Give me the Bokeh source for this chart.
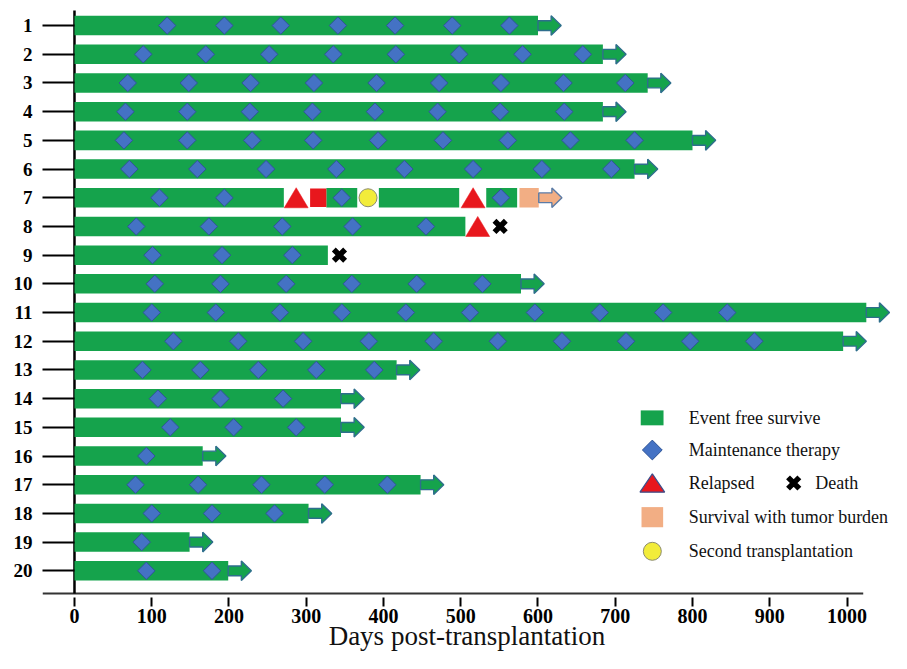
import numpy as np
from bokeh.plotting import figure
from bokeh.models import Range1d, FixedTicker, ColumnDataSource
from bokeh.core.properties import value
from bokeh.embed import file_html
from bokeh.resources import INLINE

# ---------------- data (days post-transplantation) ----------------
patients = list(range(1, 21))
x_ticks = [0, 100, 200, 300, 400, 500, 600, 700, 800, 900, 1000]

# event-free-survival bar segments
efs_row = [1, 2, 3, 4, 5, 6, 7, 7, 7, 7, 8, 9, 10, 11, 12, 13, 14, 15, 16, 17, 18, 19, 20]
efs_start = [0, 0, 0, 0, 0, 0, 0, 326, 394, 533, 0, 0, 0, 0, 0, 0, 0, 0, 0, 0, 0, 0, 0]
efs_end = [600, 684, 742, 684, 800, 725, 271, 366, 498, 573, 506, 328, 578, 1025, 995,
           417, 345, 345, 166, 448, 303, 149, 199]

# still alive at last follow-up (arrow)
alive_row = [1, 2, 3, 4, 5, 6, 7, 10, 11, 12, 13, 14, 15, 16, 17, 18, 19, 20]
alive_day = [600, 684, 742, 684, 800, 725, 601, 578, 1025, 995, 417, 345, 345, 166, 448, 303, 149, 199]
alive_state = ["efs", "efs", "efs", "efs", "efs", "efs", "tumor", "efs", "efs", "efs",
               "efs", "efs", "efs", "efs", "efs", "efs", "efs", "efs"]

tumor_row = [7]
tumor_start = [576]
tumor_end = [601]

relapse_row = [7, 7, 8]
relapse_day = [287, 516, 522]

salvage_row = [7]
salvage_start = [305]
salvage_end = [326]

death_row = [8, 9]
death_day = [551, 343]

sct_row = [7]
sct_day = [380]

maint_days = {
    1: [120, 194, 267, 341, 415, 489, 563],
    2: [89, 170, 252, 335, 416, 498, 580, 658],
    3: [69, 148, 228, 310, 391, 472, 552, 633, 713],
    4: [66, 146, 227, 308, 389, 470, 551, 634],
    5: [64, 146, 230, 309, 393, 477, 561, 642, 725],
    6: [71, 159, 248, 339, 427, 516, 605, 695],
    7: [110, 194, 346, 552],
    8: [80, 174, 269, 360, 455],
    9: [101, 191, 282],
    10: [104, 189, 274, 359, 443, 528],
    11: [100, 183, 266, 346, 429, 512, 596, 680, 762, 845],
    12: [128, 212, 296, 381, 465, 548, 631, 714, 797, 880],
    13: [88, 163, 238, 313, 388],
    14: [108, 189, 270],
    15: [124, 206, 287],
    16: [93],
    17: [79, 160, 242, 324, 405],
    18: [100, 178, 259],
    19: [87],
    20: [93, 178],
}

legend_labels = ["Event free survive", "Maintenance therapy", "Relapsed",
                 "Survival with tumor burden", "Second transplantation"]

# ---------------- styles ----------------
GREEN = "#15A34C"
BLUE = "#4472C4"
BLUE_EDGE = "#2F5597"
RED = "#E8171D"
ORANGE = "#F2AE84"
YELLOW = "#F2EC3A"
ARROW_EDGE = "#2E6E8C"
SERIF = "Liberation Serif"
BAR_H = 0.68
Y_AXIS_BOTTOM = 20.79

p = figure(width=891, height=653,
           x_range=Range1d(-41.4, 1057.6), y_range=Range1d(20.93, 0.1259),
           output_backend="svg", toolbar_location=None,
           min_border_left=42, min_border_right=0, min_border_top=0, min_border_bottom=0,
           background_fill_color="white", border_fill_color="white")
p.outline_line_color = None
p.xgrid.grid_line_color = None
p.ygrid.grid_line_color = None

# x axis
p.xaxis.ticker = FixedTicker(ticks=x_ticks)
p.xaxis.axis_line_color = None
p.xaxis.major_tick_in = 0
p.xaxis.major_tick_out = 9
p.xaxis.major_tick_line_width = 2
p.xaxis.major_tick_line_color = "black"
p.xaxis.minor_tick_line_color = None
p.xaxis.major_label_text_font = SERIF
p.xaxis.major_label_text_font_style = "bold"
p.xaxis.major_label_text_font_size = "20px"
p.xaxis.major_label_text_color = "black"
p.xaxis.major_label_standoff = 2
p.xaxis.axis_label = "Days post-transplantation"
p.xaxis.axis_label_text_font = SERIF
p.xaxis.axis_label_text_font_style = "normal"
p.xaxis.axis_label_text_font_size = "27px"
p.xaxis.axis_label_text_color = "#111111"
p.xaxis.axis_label_standoff = -5

# y axis
p.yaxis.ticker = FixedTicker(ticks=patients)
p.yaxis.major_label_overrides = {i: str(i) for i in patients}
p.yaxis.axis_line_color = None
p.yaxis.major_tick_in = 32
p.yaxis.major_tick_out = 0
p.yaxis.major_tick_line_width = 2
p.yaxis.major_tick_line_color = "black"
p.yaxis.minor_tick_line_color = None
p.yaxis.major_label_text_font = SERIF
p.yaxis.major_label_text_font_style = "bold"
p.yaxis.major_label_text_font_size = "19px"
p.yaxis.major_label_text_color = "black"
p.yaxis.major_label_standoff = 10

# axis lines
p.segment(x0=[-41.4], y0=[Y_AXIS_BOTTOM], x1=[1021], y1=[Y_AXIS_BOTTOM], line_color="#333333", line_width=2)
p.segment(x0=[0], y0=[0.4755], x1=[0], y1=[Y_AXIS_BOTTOM], line_color="black", line_width=2.5)

# bars
p.hbar(y=efs_row, left=efs_start, right=efs_end, height=BAR_H, fill_color=GREEN, line_color=None)
p.hbar(y=tumor_row, left=tumor_start, right=tumor_end, height=BAR_H, fill_color=ORANGE, line_color=None)
p.hbar(y=salvage_row, left=salvage_start, right=salvage_end, height=BAR_H * 0.95, fill_color=RED, line_color=None)

# arrows
SHAFT, HEAD, SH, HH = 17, 13, 0.17, 0.34
ax, ay, afill, aline = [], [], [], []
for r, d, s in zip(alive_row, alive_day, alive_state):
    ax.append([d, d + SHAFT, d + SHAFT, d + SHAFT + HEAD, d + SHAFT, d + SHAFT, d])
    ay.append([r - SH, r - SH, r - HH, r, r + HH, r + SH, r + SH])
    afill.append(GREEN if s == "efs" else ORANGE)
    aline.append(ARROW_EDGE if s == "efs" else "#5B7BA6")
p.patches(xs="xs", ys="ys", fill_color="fc", line_color="lc", line_width=1.4,
          source=ColumnDataSource(dict(xs=ax, ys=ay, fc=afill, lc=aline)))

# maintenance diamonds
mx, my = [], []
for r, days in maint_days.items():
    for d in days:
        mx.append(d)
        my.append(r)
p.scatter(mx, my, marker="square", angle=np.pi / 4, size=12.3, fill_color=BLUE,
          line_color=BLUE_EDGE, line_width=1)

# relapse triangles
tx, ty = [], []
for r, d in zip(relapse_row, relapse_day):
    tx.append([d - 15.5, d + 15.5, d])
    ty.append([r + 0.35, r + 0.35, r - 0.35])
p.patches(tx, ty, fill_color=RED, line_color=RED, line_width=0.5)

# second transplantation
p.scatter(sct_day, sct_row, marker="circle", size=18, fill_color=YELLOW, line_color="#8C8C6E", line_width=1)

# death
p.scatter(death_day, death_row, marker="x", size=16, line_color="black", line_width=5.5)

# ---------------- legend ----------------
LX, TX = 748, 795
LY = [14.67, 15.79, 16.94, 18.13, 19.32]
p.quad(left=[733], right=[762.5], top=[LY[0] - 0.26], bottom=[LY[0] + 0.26], fill_color=GREEN, line_color=None)
p.scatter([LX], [LY[1]], marker="square", angle=np.pi / 4, size=14, fill_color=BLUE,
          line_color=BLUE_EDGE, line_width=1)
p.patches([[LX - 16, LX + 16, LX]], [[LY[2] + 0.32, LY[2] + 0.32, LY[2] - 0.32]],
          fill_color=RED, line_color="#3A4F8C", line_width=1.2)
p.quad(left=[734], right=[762], top=[LY[3] - 0.35], bottom=[LY[3] + 0.35], fill_color=ORANGE, line_color=None)
p.scatter([LX], [LY[4]], marker="circle", size=18, fill_color=YELLOW, line_color="#8C8C6E", line_width=1)
p.scatter([931], [LY[2]], marker="x", size=16, line_color="black", line_width=5.5)
p.text(x=[TX] * 5, y=LY, text=legend_labels, text_font=value(SERIF), text_font_size="18px",
       text_baseline="middle", text_align="left", text_color="#111111")
p.text(x=[959], y=[LY[2]], text=["Death"], text_font=value(SERIF), text_font_size="18px",
       text_baseline="middle", text_align="left", text_color="#111111")

open("out.html", "w").write(file_html(p, INLINE))
